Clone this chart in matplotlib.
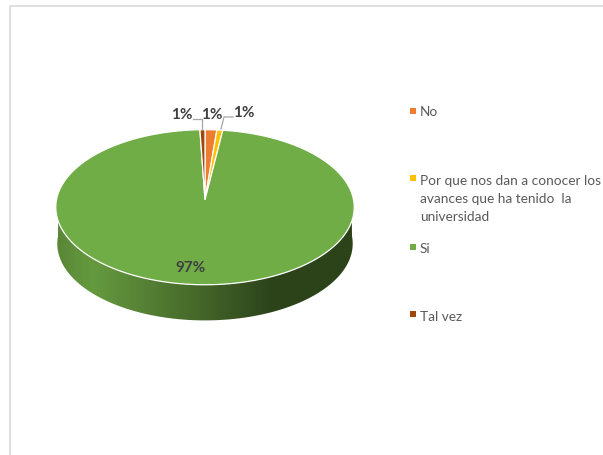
import numpy as np
import matplotlib
matplotlib.use("Agg")
import matplotlib.pyplot as plt
from matplotlib.colors import LinearSegmentedColormap
from matplotlib.patches import Polygon

categories = ["No", "Por que nos dan a conocer los\navances que ha tenido  la\nuniversidad", "Si", "Tal vez"]
values = [1.4, 0.7, 97.3, 0.6]
colors = ["#ED7D31", "#FFC000", "#70AD47", "#9E480E"]

plt.rcParams["font.family"] = ["Lato", "DejaVu Sans"]

# pie geometry, in pixels of the picture
CX, CY = 205, 200.7
RX, RY = 148.5, 76.8
PERSP = 0.097
DEPTH = 36.5
BOTTOM_SCALE = 0.99


def project(theta, r=1.0, scale=1.0, dy=0.0):
    # theta runs clockwise from 12 o'clock, far side of the disc comes out smaller
    u = r * np.sin(theta)
    v = r * np.cos(theta)
    w = 1 + PERSP * v
    return CX + scale * RX * u / w, CY + dy - scale * RY * v / w


fig = plt.figure(figsize=(6.03, 4.56), dpi=100)
ax = fig.add_axes([0, 0, 1, 1])
ax.set_xlim(0, 603)
ax.set_ylim(456, 0)
ax.axis("off")

# chart frame, cut off by the crop on the right and bottom
ax.plot([9.5, 9.5, 603], [456, 6.5, 6.5], color="#d9d9d9", lw=1.2, zorder=1)

# side wall with the shading running left to right
t = np.linspace(np.pi / 2, 3 * np.pi / 2, 200)
top_x, top_y = project(np.linspace(np.pi * 0.47, np.pi * 1.53, 200))
bot_x, bot_y = project(t, scale=BOTTOM_SCALE, dy=DEPTH)
wall = np.vstack([np.column_stack([top_x, top_y]), np.column_stack([bot_x, bot_y])[::-1]])
wall_cmap = LinearSegmentedColormap.from_list(
    "wall",
    [(0.0, "#5a8636"), (0.12, "#659a3f"), (0.47, "#46682a"), (0.72, "#2c441b"), (1.0, "#2c431a")],
)
img = ax.imshow(
    np.linspace(0, 1, 300)[None, :], extent=(56, 355, 330, 190), cmap=wall_cmap,
    aspect="auto", zorder=2, vmin=0, vmax=1,
)
img.set_clip_path(Polygon(wall, closed=True, transform=ax.transData))
ax.set_xlim(0, 603)
ax.set_ylim(456, 0)

# slices from the values, starting at 12 o'clock going clockwise
edges = np.concatenate([[0], np.cumsum(values)]) / np.sum(values) * 2 * np.pi
for i, col in enumerate(colors):
    th = np.linspace(edges[i], edges[i + 1], max(3, int(400 * (edges[i + 1] - edges[i]))))
    x, y = project(th)
    ax.fill(np.r_[CX, x], np.r_[CY, y], facecolor=col, edgecolor="white", lw=0.9, zorder=3, joinstyle="miter")

# data labels
label_pos = [(212, 115), (244, 113), (191, 268), (182, 115)]
for v, (lx, ly) in zip(values, label_pos):
    ax.text(lx, ly + 0.5, f"{round(v)}%", ha="center", va="center", fontsize=11,
            fontweight="bold", color="#404040", zorder=5)

ax.plot([193, 202, 202], [120, 120, 130], color="#a6a6a6", lw=0.9, zorder=4)
ax.plot([233, 224, 221], [118, 118, 130], color="#a6a6a6", lw=0.9, zorder=4)

# legend, Excel spaced the entries unevenly
legend_y = [111.5, 179, 248, 315]
legend_text_y = [106, 175, 243, 311]
for name, col, ly, ty in zip(categories, colors, legend_y, legend_text_y):
    ax.plot([413], [ly], marker="s", ms=3.8, color=col, mew=0, zorder=5)
    ax.text(420, ty, name, ha="left", va="top", fontsize=9.8, color="#595959",
            linespacing=1.62, zorder=5)

fig.savefig("out.png", dpi=100)
